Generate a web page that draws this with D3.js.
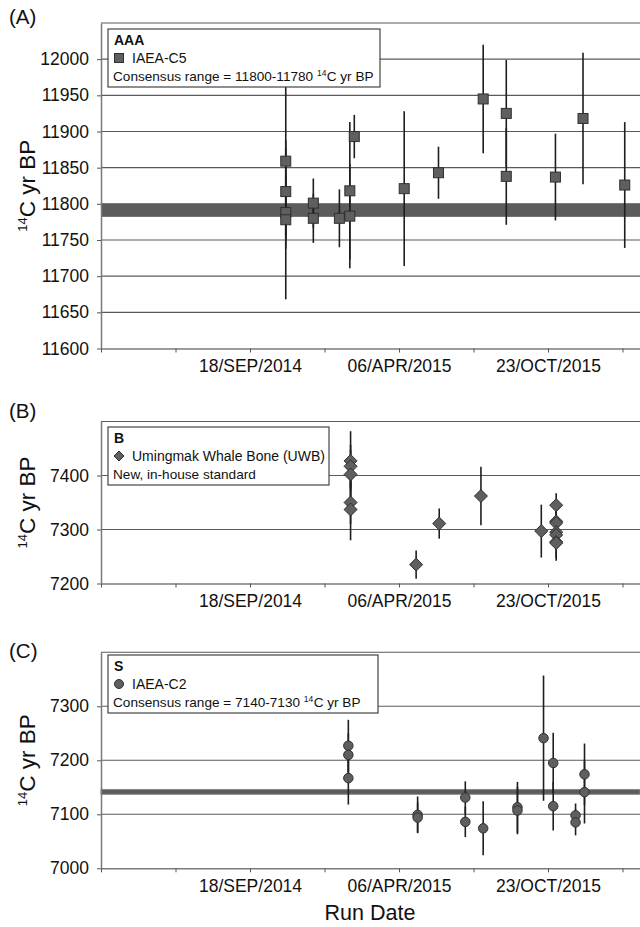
<!DOCTYPE html>
<html><head><meta charset="utf-8">
<script src="https://cdn.jsdelivr.net/npm/d3@7"></script>
<style>
html,body{margin:0;padding:0;background:#fff;}
svg{display:block;font-family:"Liberation Sans",Arial,sans-serif;}
</style></head>
<body><svg id="chart" width="640" height="927"></svg>
<script>
// ---------- data ----------
const xTickDates = ["2014-03-02","2014-06-10","2014-09-18","2014-12-27","2015-04-06","2015-07-15","2015-10-23","2016-01-31"];
const xTickLabels = ["","","18/SEP/2014","","06/APR/2015","","23/OCT/2015",""];
const xDomain = ["2014-03-02","2016-05-10"];

// Panel A: IAEA-C5
const datesA  = ["2014-11-05","2014-11-05","2014-11-05","2014-11-05","2014-12-12","2014-12-12","2015-01-16","2015-01-30","2015-01-30","2015-02-05","2015-04-13","2015-05-29","2015-07-28","2015-08-28","2015-08-28","2015-11-02","2015-12-09","2016-02-03"];
const valuesA = [11859,11817,11788,11778,11801,11780,11780,11818,11783,11893,11821,11843,11945,11925,11838,11837,11918,11826];
const errorsA = [108,60,50,110,34,34,40,95,72,30,107,36,75,74,67,60,91,87];
const bandA = [11782,11800];
const yTicksA = [11600,11650,11700,11750,11800,11850,11900,11950,12000];
const yDomainA = [11600,12050];

// Panel B: UWB
const datesB  = ["2015-01-31","2015-01-31","2015-01-31","2015-01-31","2015-01-31","2015-04-29","2015-05-30","2015-07-25","2015-10-14","2015-11-03","2015-11-03","2015-11-03","2015-11-03","2015-11-03","2015-11-03","2015-11-03"];
const valuesB = [7427,7417,7402,7350,7337,7235,7311,7362,7297,7345,7315,7312,7295,7290,7277,7275];
const errorsB = [55,40,45,40,57,26,28,54,49,22,25,30,28,25,30,33];
const yTicksB = [7200,7300,7400];
const yDomainB = [7200,7500];

// Panel C: IAEA-C2
const datesC  = ["2015-01-28","2015-01-28","2015-01-28","2015-05-01","2015-05-01","2015-07-04","2015-07-04","2015-07-28","2015-09-12","2015-09-12","2015-10-17","2015-10-30","2015-10-30","2015-11-29","2015-11-29","2015-12-11","2015-12-11"];
const valuesC = [7227,7210,7167,7099,7094,7131,7086,7074,7113,7107,7241,7195,7115,7098,7085,7174,7141];
const errorsC = [48,40,49,34,28,30,28,50,47,44,116,56,45,22,24,57,58];
const bandC = [7137,7146];
const yTicksC = [7000,7100,7200,7300];
const yDomainC = [7000,7400];

// ---------- drawing ----------
const parse = d3.utcParse("%Y-%m-%d");
const svg = d3.select("#chart");
svg.append("rect").attr("width",640).attr("height",927).attr("fill","#fff");

const x = d3.scaleUtc().domain(xDomain.map(parse)).range([101, 697]);

const MARK_FILL = "#5f5f5f", MARK_STROKE = "#303030";
const TICK_FONT = 17.5;

function drawMarker(g, type, cx, cy, size) {
  if (type === "square") {
    g.append("rect").attr("x", cx - size/2).attr("y", cy - size/2)
      .attr("width", size).attr("height", size)
      .attr("fill", MARK_FILL).attr("stroke", MARK_STROKE).attr("stroke-width", 1);
  } else if (type === "diamond") {
    const h = size/2;
    g.append("path").attr("d", `M${cx},${cy-h}L${cx+h},${cy}L${cx},${cy+h}L${cx-h},${cy}Z`)
      .attr("fill", MARK_FILL).attr("stroke", MARK_STROKE).attr("stroke-width", 1);
  } else {
    g.append("circle").attr("cx", cx).attr("cy", cy).attr("r", size/2)
      .attr("fill", MARK_FILL).attr("stroke", MARK_STROKE).attr("stroke-width", 1);
  }
}

function panel(cfg) {
  const g = svg.append("g");
  const y = d3.scaleLinear().domain(cfg.yDomain).range([cfg.bottom, cfg.top]);
  const left = x.range()[0];

  // panel label
  g.append("text").attr("x", 9).attr("y", cfg.labelY).attr("font-size", 20.5)
    .attr("fill", "#111").text(cfg.label);

  // gridlines (incl. top border)
  const gridVals = cfg.yTicks.slice(1).concat([cfg.yDomain[1]]);
  g.selectAll(".grid").data(gridVals).enter().append("line")
    .attr("x1", left).attr("x2", 640)
    .attr("y1", d => y(d)).attr("y2", d => y(d))
    .attr("stroke", "#5a5a5a").attr("stroke-width", 1.1);

  // consensus band
  if (cfg.band) {
    g.append("rect").attr("x", left).attr("width", 640 - left)
      .attr("y", y(cfg.band[1])).attr("height", y(cfg.band[0]) - y(cfg.band[1]))
      .attr("fill", "#5c5c5c").attr("stroke", "#8a8a8a").attr("stroke-width", cfg.bandStroke || 0);
  }

  // error bars
  const pts = cfg.dates.map((d, i) => ({date: parse(d), v: cfg.values[i], e: cfg.errors[i]}));
  g.selectAll(".err").data(pts).enter().append("line")
    .attr("x1", d => x(d.date)).attr("x2", d => x(d.date))
    .attr("y1", d => y(d.v + d.e)).attr("y2", d => y(d.v - d.e))
    .attr("stroke", "#1e1e1e").attr("stroke-width", 1.6);

  // markers
  pts.forEach(d => drawMarker(g, cfg.marker, x(d.date), y(d.v), cfg.markerSize));

  // x axis
  const xAxis = d3.axisBottom(x).tickValues(xTickDates.map(parse))
    .tickFormat((d, i) => xTickLabels[i]).tickSize(4).tickSizeOuter(0).tickPadding(7);
  const ax = g.append("g").attr("transform", `translate(0,${cfg.bottom})`).call(xAxis);
  ax.select(".domain").attr("stroke", "#7a7a7a").attr("stroke-width", 1.5)
    .attr("d", `M${left},0.5H640`);
  ax.selectAll(".tick line").attr("stroke", "#555");
  ax.selectAll(".tick text").attr("font-size", TICK_FONT).attr("fill", "#111")
    .attr("font-family", "'Liberation Sans',Arial,sans-serif");

  // y axis
  const yAxis = d3.axisLeft(y).tickValues(cfg.yTicks).tickFormat(d3.format("d"))
    .tickSize(4).tickSizeOuter(0).tickPadding(8);
  const ay = g.append("g").attr("transform", `translate(${left},0)`).call(yAxis);
  ay.select(".domain").attr("stroke", "#7a7a7a").attr("stroke-width", 1.5);
  ay.selectAll(".tick line").attr("stroke", "#555");
  ay.selectAll(".tick text").attr("font-size", TICK_FONT).attr("fill", "#111")
    .attr("font-family", "'Liberation Sans',Arial,sans-serif");

  // y title
  const cy = (cfg.top + cfg.bottom) / 2;
  const t = g.append("text").attr("transform", `translate(35,${cy}) rotate(-90)`)
    .attr("text-anchor", "middle").attr("font-size", 22.5).attr("fill", "#111");
  t.append("tspan").attr("font-size", 13).attr("dy", -8).text("14");
  t.append("tspan").attr("dy", 8).text("C yr BP");

  // legend
  const L = cfg.legend;
  const lg = g.append("g");
  lg.append("rect").attr("x", L.x).attr("y", L.y).attr("width", L.w).attr("height", L.h)
    .attr("fill", "#fff").attr("stroke", "#444").attr("stroke-width", 1.2);
  lg.append("text").attr("x", L.x + 6).attr("y", L.y + 16).attr("font-size", 14)
    .attr("font-weight", "bold").attr("fill", "#111").text(L.title);
  drawMarker(lg, cfg.marker, L.x + 11, L.y + 29, L.markSize);
  lg.append("text").attr("x", L.x + 24).attr("y", L.y + 34).attr("font-size", 14)
    .attr("fill", "#111").text(L.series);
  const fs3 = 13.6;
  const a = lg.append("text").attr("x", L.x + 5).attr("y", L.y + 52).attr("font-size", fs3)
    .attr("fill", "#111").text(L.line3a);
  if (L.line3b) {
    let xx = L.x + 5 + a.node().getComputedTextLength() + fs3 * 0.28;
    const s = lg.append("text").attr("x", xx).attr("y", L.y + 46.5).attr("font-size", 8.5)
      .attr("fill", "#111").text("14");
    xx += s.node().getComputedTextLength() + 0.3;
    lg.append("text").attr("x", xx).attr("y", L.y + 52).attr("font-size", fs3)
      .attr("fill", "#111").text(L.line3b);
  }
}

panel({label: "(A)", labelY: 24, top: 23, bottom: 348.5, yDomain: yDomainA, yTicks: yTicksA,
  dates: datesA, values: valuesA, errors: errorsA, band: bandA, marker: "square", markerSize: 10,
  legend: {x: 108, y: 29, w: 272, h: 58, title: "AAA", series: "IAEA-C5", markSize: 9,
    line3a: "Consensus range = 11800-11780", line3b: "C yr BP"}});

panel({label: "(B)", labelY: 418, top: 421.5, bottom: 583.5, yDomain: yDomainB, yTicks: yTicksB,
  dates: datesB, values: valuesB, errors: errorsB, band: null, marker: "diamond", markerSize: 13,
  legend: {x: 108, y: 427, w: 221, h: 58, title: "B", series: "Umingmak Whale Bone (UWB)", markSize: 10,
    line3a: "New, in-house standard"}});

panel({label: "(C)", labelY: 658, top: 652.3, bottom: 868.3, yDomain: yDomainC, yTicks: yTicksC,
  dates: datesC, values: valuesC, errors: errorsC, band: bandC, bandStroke: 1, marker: "circle", markerSize: 9.5,
  legend: {x: 108, y: 655, w: 270, h: 58, title: "S", series: "IAEA-C2", markSize: 9,
    line3a: "Consensus range = 7140-7130", line3b: "C yr BP"}});

// x title
svg.append("text").attr("x", 370).attr("y", 920).attr("text-anchor", "middle")
  .attr("font-size", 21.5).attr("fill", "#111").text("Run Date");
</script>
</body></html>
